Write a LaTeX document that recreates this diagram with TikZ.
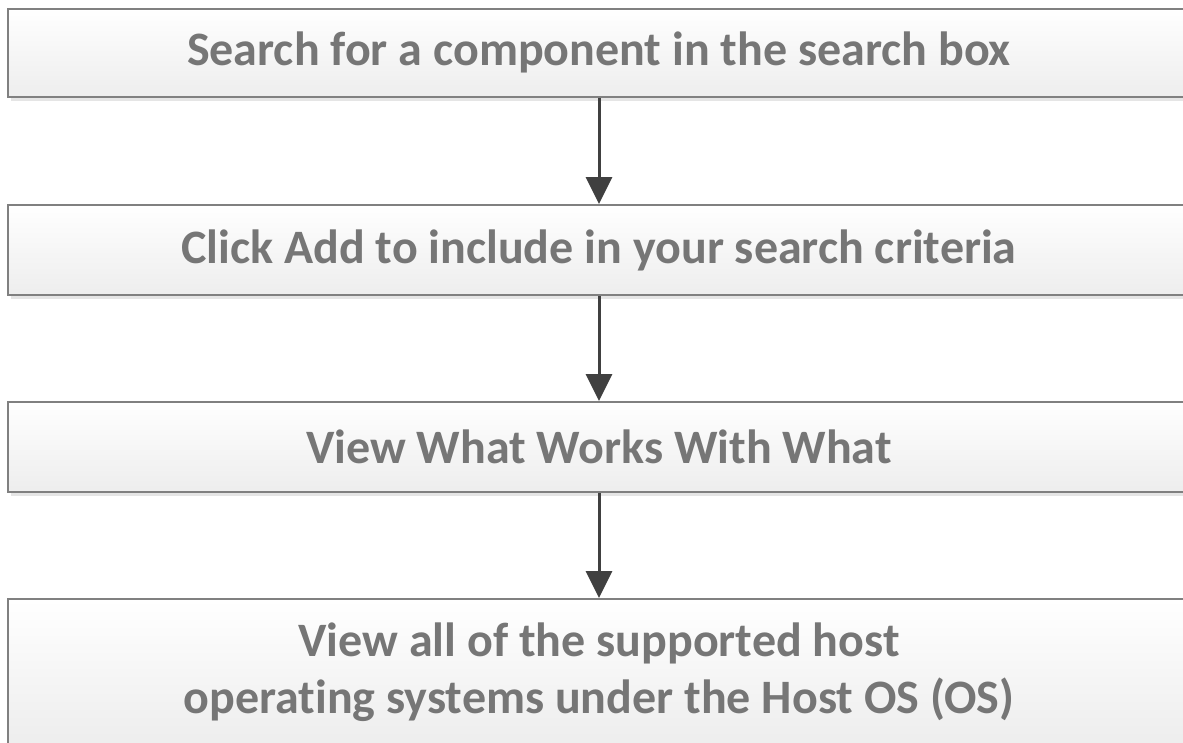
\documentclass[tikz,border=0pt]{standalone}
\usepackage{fontspec}
\setmainfont{Carlito}[Ligatures=NoCommon]
\usetikzlibrary{arrows.meta,shadows}
\definecolor{txt}{HTML}{767676}
\definecolor{edge}{HTML}{808080}
\definecolor{arr}{HTML}{404040}
\tikzset{
  stepbox/.style={draw=edge, line width=2pt, top color=white, bottom color=black!7,
    minimum width=1182pt, inner sep=0pt, text=txt, align=center,
    font=\bfseries\fontsize{48}{57}\selectfont,
    drop shadow={shadow xshift=3pt, shadow yshift=-4pt, fill=black!10, opacity=1}},
  flow/.style={draw=arr, line width=3pt, -{Triangle[width=26pt,length=27pt]}}
}
\begin{document}
\begin{tikzpicture}[x=1pt,y=-1pt]
\useasboundingbox (0,0) rectangle (1183,742);
\clip (0,0) rectangle (1183,742);
\fill[white] (0,0) rectangle (1183,742);
\node[stepbox, minimum height=88pt] (s1) at (599,52.5) {Search for a component in the search box};
\node[stepbox, minimum height=90pt] (s2) at (599,250) {Click Add to include in your search criteria};
\node[stepbox, minimum height=90pt] (s3) at (599,447) {View What Works With What};
\node[stepbox, minimum height=146pt] (s4) at (599,672) {View all of the supported host\\operating systems under the Host OS (OS)};
\draw[flow] (s1.south) -- (s2.north);
\draw[flow] (s2.south) -- (s3.north);
\draw[flow] (s3.south) -- (s4.north);
\end{tikzpicture}
\end{document}
